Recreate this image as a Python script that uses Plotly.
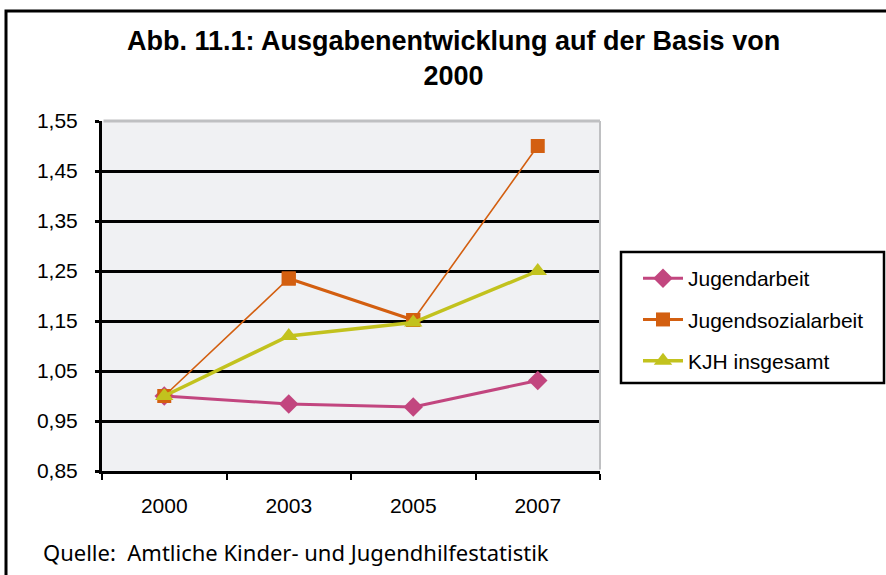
import plotly.graph_objects as go

years = ["2000", "2003", "2005", "2007"]
jugendarbeit = [1.0, 0.984, 0.978, 1.031]
jugendsozialarbeit = [1.0, 1.235, 1.152, 1.50]
kjh_insgesamt = [1.0, 1.12, 1.147, 1.25]
y_ticks = [0.85, 0.95, 1.05, 1.15, 1.25, 1.35, 1.45, 1.55]
y_tick_labels = ["0,85", "0,95", "1,05", "1,15", "1,25", "1,35", "1,45", "1,55"]
series_names = ["Jugendarbeit", "Jugendsozialarbeit", "KJH insgesamt"]
title_text = "<b>Abb. 11.1: Ausgabenentwicklung auf der Basis von<br>2000</b>"
source_text = "Quelle:  Amtliche Kinder- und Jugendhilfestatistik"

W, H = 886, 575
PINK = "#C2467F"
ORANGE = "#D35F10"
OLIVE = "#C2C21E"

fig = go.Figure()
fig.add_trace(go.Scatter(
    x=years, y=jugendarbeit, name=series_names[0], mode="lines+markers",
    line=dict(color=PINK, width=3), marker=dict(symbol="diamond", size=15, color=PINK),
    legendgroup="a"))
fig.add_trace(go.Scatter(
    x=years, y=jugendsozialarbeit, name=series_names[1], mode="lines+markers",
    line=dict(color=ORANGE, width=1.6), marker=dict(symbol="square", size=14, color=ORANGE),
    showlegend=False, legendgroup="b"))
fig.add_trace(go.Scatter(
    x=years[1:3], y=jugendsozialarbeit[1:3], name=series_names[1], mode="lines+markers",
    line=dict(color=ORANGE, width=3), marker=dict(symbol="square", size=14, color=ORANGE),
    legendgroup="b"))
fig.add_trace(go.Scatter(
    x=years, y=kjh_insgesamt, name=series_names[2], mode="lines+markers",
    line=dict(color=OLIVE, width=3.5), marker=dict(symbol="triangle-up", size=16, color=OLIVE),
    legendgroup="c"))

x0, x1 = 102 / W, 600 / W
y0, y1 = 1 - 471 / H, 1 - 121 / H

fig.update_layout(
    width=W, height=H,
    margin=dict(l=0, r=0, t=0, b=0, pad=0, autoexpand=False),
    paper_bgcolor="white",
    plot_bgcolor="#F0F1F3",
    separators=",.",
    font=dict(family="Liberation Sans, Arial, sans-serif", color="black", size=21),
    xaxis=dict(
        domain=[x0, x1], type="category", range=[-0.5, 3.5],
        tickson="boundaries", ticks="outside", ticklen=6, tickwidth=2, tickcolor="black",
        showgrid=False, showline=True, linecolor="black", linewidth=3,
        tickfont=dict(size=21), ticklabelstandoff=14, zeroline=False, fixedrange=True,
        automargin=False),
    yaxis=dict(
        domain=[y0, y1], range=[0.85, 1.55],
        tickvals=y_ticks, ticktext=y_tick_labels,
        ticks="outside", ticklen=4, tickwidth=3, tickcolor="black",
        showgrid=True, gridcolor="black", gridwidth=3,
        showline=True, linecolor="black", linewidth=3,
        tickfont=dict(size=21), ticklabelstandoff=13, zeroline=False, fixedrange=True,
        automargin=False),
    showlegend=True,
    legend=dict(
        x=638 / W, y=1 - 258 / H, xanchor="left", yanchor="top",
        bgcolor="rgba(0,0,0,0)", borderwidth=0,
        font=dict(size=21), traceorder="grouped", tracegroupgap=11,
        itemwidth=40),
    shapes=[
        dict(type="rect", xref="paper", yref="paper", x0=6 / W, x1=1.02, y0=-0.05, y1=1 - 11 / H,
             line=dict(color="black", width=3), layer="above"),
        dict(type="line", xref="x domain", yref="y domain", x0=0.003, x1=1, y0=1, y1=1,
             line=dict(color="#BFC0C2", width=3), layer="above"),
        dict(type="line", xref="x domain", yref="y domain", x0=1, x1=1, y0=0.004, y1=1,
             line=dict(color="#BFC0C2", width=2), layer="above"),
        dict(type="rect", xref="paper", yref="paper", x0=621 / W, x1=884 / W,
             y0=1 - 383 / H, y1=1 - 252 / H,
             line=dict(color="black", width=2.5), layer="above"),
    ],
    annotations=[
        dict(text=title_text, xref="paper", yref="paper", x=453 / W, y=1 - 24 / H,
             xanchor="center", yanchor="top", showarrow=False, align="center",
             font=dict(size=27, family="Liberation Sans, Arial, sans-serif")),
        dict(text=source_text, xref="paper", yref="paper", x=41 / W, y=1 - 552 / H,
             xanchor="left", yanchor="middle", showarrow=False,
             font=dict(size=22, family="Noto Sans, sans-serif")),
    ],
)

fig.write_html(
    "out.html",
    config={"displayModeBar": False},
    post_script="document.body.style.margin='0';document.body.style.overflow='hidden';",
)
